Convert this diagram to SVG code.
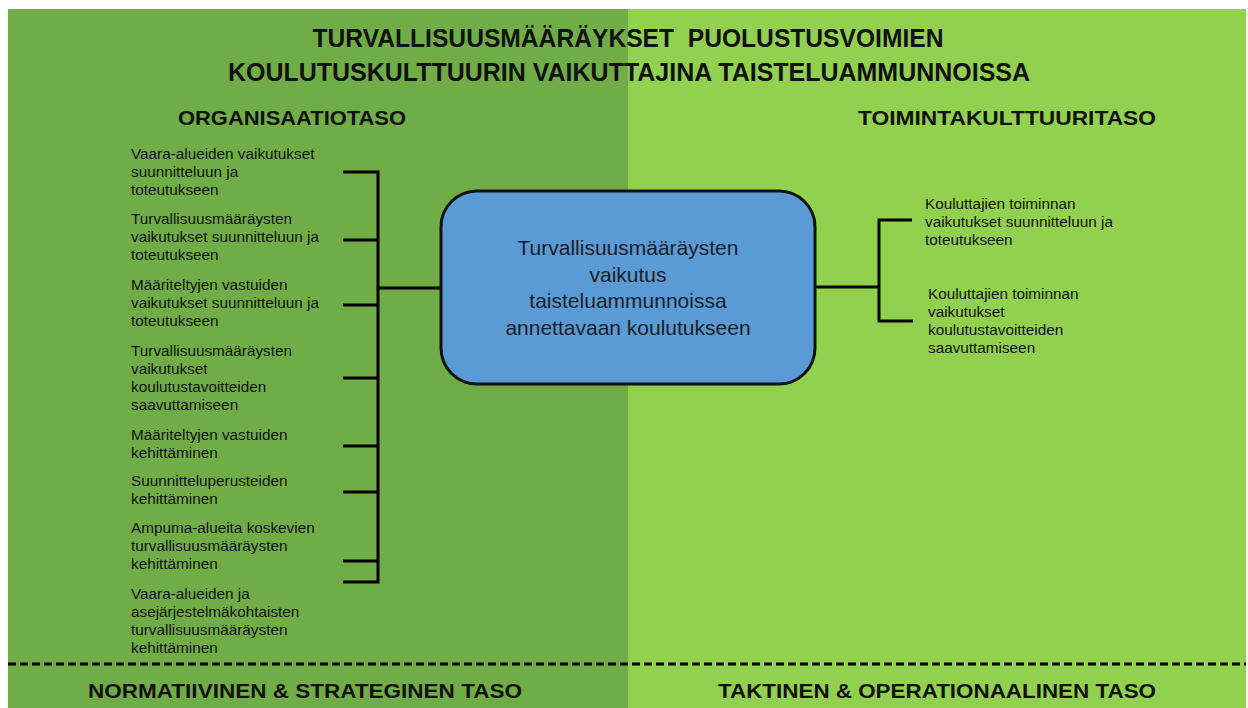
<svg xmlns="http://www.w3.org/2000/svg" width="1248" height="708" viewBox="0 0 1248 708">
<style>
.t{font-family:"Liberation Sans",Arial,sans-serif;fill:#111;}
.h{font-weight:bold;}
.s{font-size:15.3px;}
.c{font-size:21px;text-anchor:middle;fill:#1a1f2b;}
.ln{stroke:#000;stroke-width:3;fill:none;}
</style>
<rect x="0" y="0" width="1248" height="708" fill="#ffffff"/>
<rect x="8" y="9" width="620" height="699" fill="#70AD47"/>
<rect x="628" y="9" width="618" height="699" fill="#92D050"/>
<g id="title">
<text class="t h" x="628" y="47" font-size="25" text-anchor="middle" textLength="631" lengthAdjust="spacingAndGlyphs">TURVALLISUUSMÄÄRÄYKSET&#160; PUOLUSTUSVOIMIEN</text>
<text class="t h" x="629" y="81" font-size="25" text-anchor="middle" textLength="802" lengthAdjust="spacingAndGlyphs">KOULUTUSKULTTUURIN VAIKUTTAJINA TAISTELUAMMUNNOISSA</text>
</g>
<g id="heading-left"><text class="t h" x="292" y="125" font-size="20" text-anchor="middle" textLength="228" lengthAdjust="spacingAndGlyphs">ORGANISAATIOTASO</text></g>
<g id="heading-right"><text class="t h" x="1007" y="125" font-size="20" text-anchor="middle" textLength="298" lengthAdjust="spacingAndGlyphs">TOIMINTAKULTTUURITASO</text></g>
<g id="connectors">
<path class="ln" d="M343 172H378M343 240H378M343 305H378M343 378H378M343 446H378M343 492H378M343 561H378M343 582H378M378 170.5V583.5M378 288H441"/>
<path class="ln" d="M815 287H879M879 220V321M877.5 220H912M877.5 321H913"/>
<line x1="8" y1="664" x2="1246" y2="664" stroke="#000" stroke-width="3" stroke-dasharray="8 4"/>
</g>
<g id="center-node">
<rect x="441" y="191" width="374" height="193" rx="36" ry="36" fill="#5B9BD5" stroke="#111" stroke-width="3"/>
<text class="t c" x="628" y="255">Turvallisuusmääräysten</text>
<text class="t c" x="628" y="282">vaikutus</text>
<text class="t c" x="628" y="308">taisteluammunnoissa</text>
<text class="t c" x="628" y="335">annettavaan koulutukseen</text>
</g>
<g id="item1"><text class="t s" x="131" y="159">Vaara-alueiden vaikutukset<tspan x="131" dy="18">suunnitteluun ja</tspan><tspan x="131" dy="18">toteutukseen</tspan></text></g>
<g id="item2"><text class="t s" x="131" y="224">Turvallisuusmääräysten<tspan x="131" dy="18">vaikutukset suunnitteluun ja</tspan><tspan x="131" dy="18">toteutukseen</tspan></text></g>
<g id="item3"><text class="t s" x="131" y="290">Määriteltyjen vastuiden<tspan x="131" dy="18">vaikutukset suunnitteluun ja</tspan><tspan x="131" dy="18">toteutukseen</tspan></text></g>
<g id="item4"><text class="t s" x="131" y="356">Turvallisuusmääräysten<tspan x="131" dy="18">vaikutukset</tspan><tspan x="131" dy="18">koulutustavoitteiden</tspan><tspan x="131" dy="18">saavuttamiseen</tspan></text></g>
<g id="item5"><text class="t s" x="131" y="440">Määriteltyjen vastuiden<tspan x="131" dy="18">kehittäminen</tspan></text></g>
<g id="item6"><text class="t s" x="131" y="486">Suunnitteluperusteiden<tspan x="131" dy="18">kehittäminen</tspan></text></g>
<g id="item7"><text class="t s" x="131" y="533">Ampuma-alueita koskevien<tspan x="131" dy="18">turvallisuusmääräysten</tspan><tspan x="131" dy="18">kehittäminen</tspan></text></g>
<g id="item8"><text class="t s" x="131" y="599">Vaara-alueiden ja<tspan x="131" dy="18">asejärjestelmäkohtaisten</tspan><tspan x="131" dy="18">turvallisuusmääräysten</tspan><tspan x="131" dy="18">kehittäminen</tspan></text></g>
<g id="right1"><text class="t s" x="925" y="209">Kouluttajien toiminnan<tspan x="925" dy="18">vaikutukset suunnitteluun ja</tspan><tspan x="925" dy="18">toteutukseen</tspan></text></g>
<g id="right2"><text class="t s" x="928" y="299">Kouluttajien toiminnan<tspan x="928" dy="18">vaikutukset</tspan><tspan x="928" dy="18">koulutustavoitteiden</tspan><tspan x="928" dy="18">saavuttamiseen</tspan></text></g>
<g id="footer-left"><text class="t h" x="305" y="698" font-size="21" text-anchor="middle" textLength="434" lengthAdjust="spacingAndGlyphs">NORMATIIVINEN &amp; STRATEGINEN TASO</text></g>
<g id="footer-right"><text class="t h" x="937" y="698" font-size="21" text-anchor="middle" textLength="438" lengthAdjust="spacingAndGlyphs">TAKTINEN &amp; OPERATIONAALINEN TASO</text></g>
</svg>
